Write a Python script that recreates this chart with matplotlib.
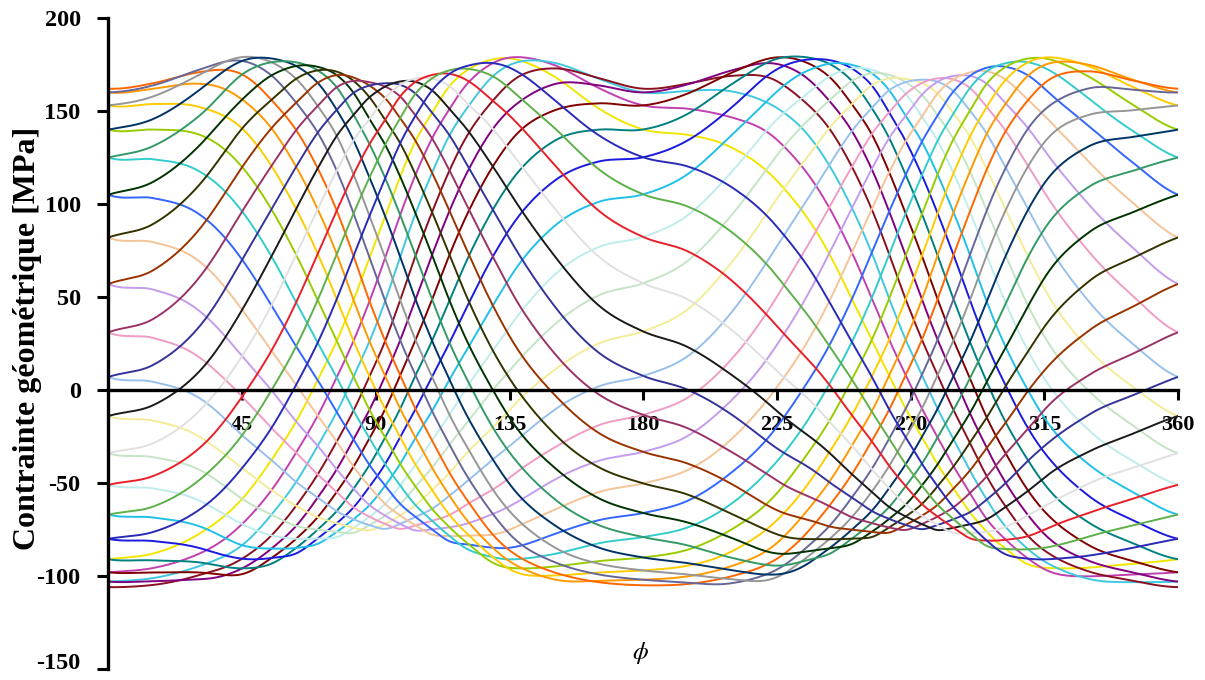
import numpy as np
import matplotlib
matplotlib.use("Agg")
import matplotlib.pyplot as plt

# ---------------- data ----------------
# grid of the angle phi (degrees)
phi_grid = [0, 15, 30, 45, 60, 75, 90, 105, 120, 135, 150, 165, 180,
            195, 210, 225, 240, 255, 270, 285, 300, 315, 330, 345, 360]
# upper envelope of the family (MPa)
upper_env = [162, 165, 172, 179, 177, 172, 165, 168, 174, 179, 176, 168, 162,
             165, 172, 179, 178, 173, 167, 169, 175, 179, 175, 167, 162]
# lower envelope of the family (MPa)
lower_env = [-106, -105, -102, -99, -90, -80, -75, -76, -85, -97, -102, -104, -105,
             -105, -104, -101, -90, -80, -75, -77, -87, -97, -102, -104, -106]
# phase position reached by the family at each phi (degrees)
phase_pos = [0, 2, 8, 20, 36, 57, 84, 113, 138, 156, 168, 176, 180,
             184, 192, 203, 217, 237, 263, 291, 317, 336, 347, 354, 360]
# values of the curves at phi = 0, by phase distance 0,10,...,180 deg
levels_at_0 = [162, 160, 153, 140, 125, 105, 82, 57, 31, 7, -14, -34, -51,
               -67, -80, -91, -98, -103, -106]
# phase of each of the 36 curves (deg) and its colour
curve_phase = list(range(0, 360, 10))
curve_colors = ["#FF6600", "#666699", "#969696", "#003366", "#339966", "#003300",
                "#333300", "#993300", "#993366", "#333399", "#1a1a1a", "#e0e0e0",
                "#E8202A", "#5DB04A", "#2A2AB8", "#F2E600", "#C040B0", "#40C8E0",
                "#8A1020", "#800080", "#800000", "#008080", "#1A1AE0", "#20C0E8",
                "#C0ECEC", "#C4E4C4", "#F4EC98", "#98C0EC", "#F09CC4", "#C49CEC",
                "#F4C498", "#3366FF", "#33CCCC", "#99CC00", "#FFCC00", "#FF9900"]
x_ticks = [45, 90, 135, 180, 225, 270, 315, 360]
y_ticks = [-150, -100, -50, 0, 50, 100, 150, 200]


def cr_periodic(xt, yt, xn):
    """Periodic Catmull-Rom smoothing through tabulated points (like Excel smoothing)."""
    xt = np.asarray(xt, float)
    y = np.asarray(yt, float)
    h = xt[1] - xt[0]
    n = len(y)
    u = (np.asarray(xn, float) - xt[0]) / h
    i = np.floor(u).astype(int)
    t = u - i
    p0 = y[(i - 1) % n]
    p1 = y[i % n]
    p2 = y[(i + 1) % n]
    p3 = y[(i + 2) % n]
    return 0.5 * (2 * p1 + (-p0 + p2) * t + (2 * p0 - 5 * p1 + 4 * p2 - p3) * t ** 2
                  + (-p0 + 3 * p1 - 3 * p2 + p3) * t ** 3)


pg = np.array(phi_grid[:-1], float)
phi = np.linspace(0, 360, 1441)
U = cr_periodic(pg, upper_env[:-1], phi)
L = cr_periodic(pg, lower_env[:-1], phi)
psi = phi + cr_periodic(pg, np.array(phase_pos[:-1]) - pg, phi)

lv = np.array(levels_at_0, float)
p_half = (lv - lv[-1]) / (lv[0] - lv[-1])
p_full = np.concatenate([p_half, p_half[-2:0:-1]])
d_grid = np.arange(0, 360, 10)

fig = plt.figure(figsize=(12.05, 6.8), dpi=100)
ax = fig.add_axes([0.0900, 0.0162, 0.8876, 0.9573])

order = sorted(range(36), key=lambda k: (curve_phase[k] - 150) % 360)
for k in order:
    d = np.mod(psi - curve_phase[k], 360)
    p = cr_periodic(d_grid, p_full, d)
    sigma = L + (U - L) * p
    ax.plot(phi, sigma, color=curve_colors[k], lw=1.4, solid_capstyle="round")

ax.set_xlim(0, 360)
ax.set_ylim(-150, 200)
for s in ("top", "right"):
    ax.spines[s].set_visible(False)
ax.spines["bottom"].set_position(("data", 0))
ax.spines["bottom"].set_linewidth(2.4)
ax.spines["left"].set_linewidth(2.4)
ax.spines["bottom"].set_zorder(5)

xfont = dict(family="Liberation Serif", weight="bold", size=16)
yfont = dict(family="Liberation Serif", weight="bold", size=17.5)
ax.set_xticks(x_ticks)
ax.set_xticklabels([str(v) for v in x_ticks], fontdict=xfont)
ax.set_yticks(y_ticks)
ax.set_yticklabels([str(v) for v in y_ticks], fontdict=yfont)
ax.tick_params(axis="x", direction="out", length=7, width=2.2, pad=11)
ax.tick_params(axis="y", direction="out", length=8, width=2.2, pad=12)
ax.get_yticklabels()[0].set_va("baseline")

fig.text(28 / 1205, 1 - 338 / 680, "Contrainte géométrique [MPa]", rotation=90,
         ha="center", va="center", family="Liberation Serif", weight="bold", size=23)
plt.rcParams["mathtext.fontset"] = "stix"
fig.text(640 / 1205, 1 - 653 / 680, r"$\phi$", ha="center", va="center", size=18)

fig.savefig("out.png", dpi=100)
